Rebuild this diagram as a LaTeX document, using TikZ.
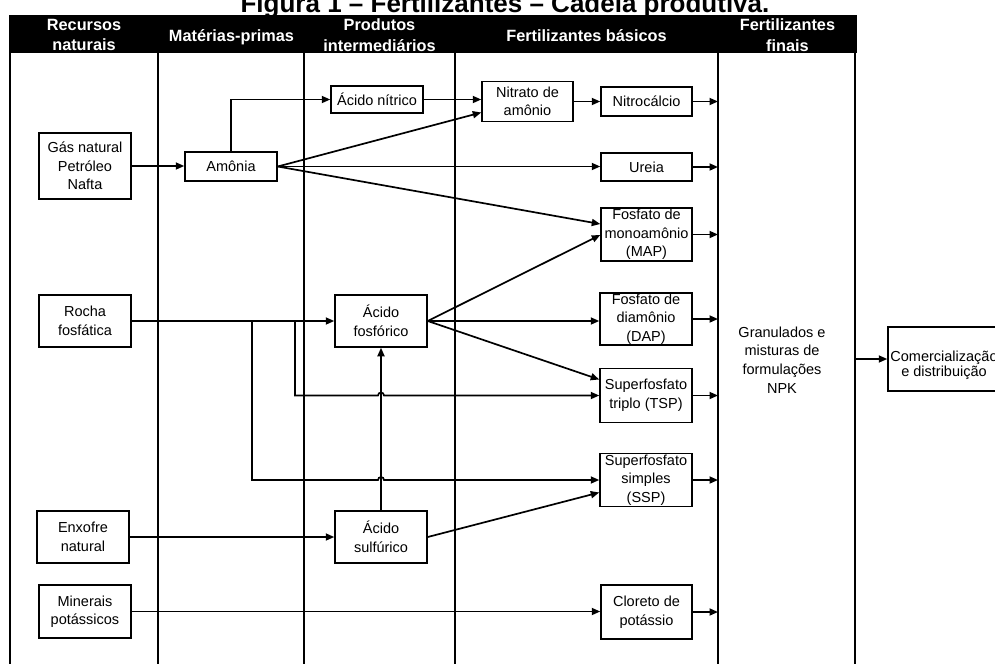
\documentclass[tikz,border=0pt]{standalone}
\usepackage{fontspec}
\setmainfont{Liberation Sans}
\usetikzlibrary{arrows.meta,calc}
\begin{document}
\begin{tikzpicture}[x=1pt,y=-1pt,
  box/.style={draw,line width=1.5pt,inner sep=0pt,minimum width=92pt,align=center,
    font=\fontsize{14.5}{18.5}\selectfont},
  flow/.style={line width=1.7pt,-{Triangle[length=8.5pt,width=7pt]}},
  colline/.style={line width=2.1pt},
  head/.style={text=white,inner sep=0pt,align=center,font=\fontsize{16.3}{20.5}\bfseries\selectfont},
]
\useasboundingbox (0,0) rectangle (995,664);

% title
\node[anchor=base,inner sep=0pt,font=\fontsize{26}{30}\bfseries\selectfont] (title) at (505,12)
  {Figura 1 – Fertilizantes – Cadeia produtiva.};

% column grid
\coordinate (colA) at (10,0);
\coordinate (colB) at (158,0);
\coordinate (colC) at (304,0);
\coordinate (colD) at (455,0);
\coordinate (colE) at (718,0);
\coordinate (colF) at (855,0);
\draw[line width=2.6pt] (10,53) -- (10,664);
\foreach \x in {158,304,455,718,855} \draw[colline] (\x,53) -- (\x,664);

% header band
\fill (9,15) rectangle (856.5,53);
\node[head] (h1) at (84,35) {Recursos\\naturais};
\node[head,anchor=base] (h2) at (231.5,41) {Matérias-primas};
\node[head] (h3) at (379.5,35) {Produtos\\intermediários};
\node[head,anchor=base] (h4) at (586.5,41) {Fertilizantes básicos};
\node[head] (h5) at (787.5,35) {Fertilizantes\\finais};

% natural resources
\node[box,minimum height=66pt] (gas) at (85,166) {Gás natural\\Petróleo\\Nafta};
\node[box,minimum height=52pt] (rocha) at (85,321) {Rocha\\fosfática};
\node[box,minimum height=52pt] (enxofre) at (83,537) {Enxofre\\natural};
\node[box,minimum height=53pt] (minerais) at (85,611.5) {Minerais\\potássicos};

% raw material and intermediates
\node[box,minimum height=29pt] (amonia) at (231,166.5) {Amônia};
\node[box,minimum height=27pt] (acnitrico) at (377,99.5) {Ácido nítrico};
\node[box,minimum height=52pt] (acfosf) at (381,321) {Ácido\\fosfórico};
\node[box,minimum height=52pt] (acsulf) at (381,537) {Ácido\\sulfúrico};

% basic fertilizers
\node[box,minimum width=91pt,minimum height=40pt] (nitrato) at (527.5,101.5) {Nitrato de\\amônio};
\node[box,minimum width=91pt,minimum height=29pt] (nitrocalcio) at (646.5,101.5) {Nitrocálcio};
\node[box,minimum width=91pt,minimum height=28pt] (ureia) at (646.5,167) {Ureia};
\node[box,minimum width=91pt,minimum height=53pt] (map) at (646.5,234.5) {Fosfato de\\monoamônio\\(MAP)};
\node[box,minimum height=52pt] (dap) at (646,319) {Fosfato de\\diamônio\\(DAP)};
\node[box,minimum height=54pt] (tsp) at (646,395.5) {Superfosfato\\triplo (TSP)};
\node[box,minimum height=53pt] (ssp) at (646,480) {Superfosfato\\simples\\(SSP)};
\node[box,minimum width=91pt,minimum height=54pt] (cloreto) at (646.5,612) {Cloreto de\\potássio};

% final fertilizers and distribution
\node[inner sep=0pt,align=center,font=\fontsize{14.5}{18.7}\selectfont] (npk) at (782,360)
  {Granulados e\\misturas de\\formulações\\NPK};
\node[box,minimum width=112pt,minimum height=64pt] (comerc) at (944,359) {};
\node[inner sep=0pt,align=center,font=\fontsize{14.5}{13.5}\selectfont] (comerctext) at (944,365)
  {Comercialização\\e distribuição};

% nitrogen chain
\draw[flow] (gas.east) -- (gas.east -| amonia.west);
\draw[flow] (amonia.north) |- (acnitrico.west);
\draw[flow] (acnitrico.east) -- (acnitrico.east -| nitrato.west);
\draw[flow] (amonia.east) -- ($(nitrato.west)+(0,11)$);
\draw[flow] (amonia.east) -- (amonia.east -| ureia.west);
\draw[flow] (amonia.east) -- ($(map.west)+(0,-10.5)$);
\draw[flow] (nitrato.east |- nitrocalcio.west) -- (nitrocalcio.west);

% phosphate chain
\coordinate (splitS) at (252,321);
\coordinate (splitT) at (295,321);
\draw[flow] (rocha.east) -- (acfosf.west);
\draw[flow] (acsulf.north) -- (acfosf.south);
\draw[flow] (splitT) -- (splitT |- tsp.west)
  -- ($(acsulf.north |- tsp.west)+(-3,0)$) arc[start angle=180,end angle=360,radius=3]
  -- (tsp.west);
\draw[flow] (splitS) -- (splitS |- ssp.west)
  -- ($(acsulf.north |- ssp.west)+(-3,0)$) arc[start angle=180,end angle=360,radius=3]
  -- (ssp.west);
\draw[flow] (acfosf.east) -- ($(map.west)+(0,0.5)$);
\draw[flow] (acfosf.east) -- (acfosf.east -| dap.west);
\draw[flow] (acfosf.east) -- ($(tsp.west)+(0,-16)$);
\draw[flow] (enxofre.east) -- (acsulf.west);
\draw[flow] (acsulf.east) -- ($(ssp.west)+(0,12.5)$);

% potassium chain
\draw[flow] (minerais.east) -- (minerais.east -| cloreto.west);

% into final fertilizers
\foreach \n in {nitrocalcio,ureia,map,dap,tsp,ssp,cloreto}
  \draw[flow] (\n.east) -- (\n.east -| colE);
\draw[flow] (colF |- comerc.west) -- (comerc.west);
\end{tikzpicture}
\end{document}
